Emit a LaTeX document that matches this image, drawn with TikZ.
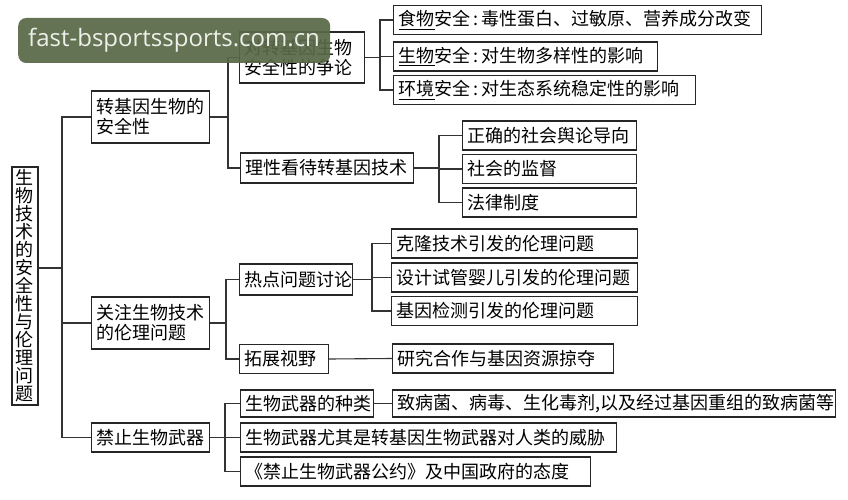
\documentclass[tikz,border=0pt]{standalone}
\usepackage{fontspec}
\newfontfamily\cjk{Noto Sans CJK SC}
\newfontfamily\wmfont{Open Sans}
\definecolor{wmgreen}{RGB}{89,104,72}
\definecolor{wmtext}{RGB}{236,240,232}

\begin{document}
\begin{tikzpicture}[x=1pt, y=-1pt,
        box/.style={draw=black!85, line width=1.1pt, anchor=west, inner xsep=5pt, inner ysep=2pt,
            align=left, minimum height=29pt, font=\cjk\fontsize{18}{20}\selectfont},
        link/.style={draw=black!80, line width=1.1pt},
        wmark/.style={fill=wmgreen, rounded corners=8pt, anchor=west, inner xsep=10pt, align=left,
            minimum height=45pt, text=wmtext, font=\wmfont\fontsize{24}{26}\selectfont}]
        \useasboundingbox (0,0) rectangle (848,500);

        % Junctions
        \coordinate (jR) at (62,268);
        \coordinate (jG) at (228,0);
        \coordinate (jD) at (380,0);
        \coordinate (jT) at (439,0);
        \coordinate (jE) at (226,0);
        \coordinate (jH) at (372,0);
        \coordinate (jB) at (225,0);

        % Root
        \node[box, anchor=center, align=center, text width=18pt, inner xsep=4pt, minimum height=238pt,
            font=\cjk\fontsize{18}{18}\selectfont] (root) at (25,286)
            {生\\物\\技\\术\\的\\安\\全\\性\\与\\伦\\理\\问\\题};

        % First level
        \node[box, text width=108pt, minimum height=52pt] (gmo) at (91,117) {转基因生物的\\安全性};
        \node[box, text width=108pt, minimum height=52pt] (ethic) at (91,323) {关注生物技术\\的伦理问题};
        \node[box, text width=108pt] (ban) at (91,437.5) {禁止生物武器};

        % Safety of GM organisms
        \node[box, text width=115pt, minimum height=51pt] (debate) at (239,57.5) {对转基因生物\\安全性的争论};
        \node[box, text width=163pt, minimum height=30pt] (reason) at (240,168) {理性看待转基因技术};
        \node[box, text width=358pt] (food) at (393,20) {\underline{食物}安全\,:\,毒性蛋白、过敏原、营养成分改变};
        \node[box, text width=254pt] (bio) at (393,56.5) {\underline{生物}安全\,:\,对生物多样性的影响};
        \node[box, text width=292pt] (env) at (393,90) {\underline{环境}安全\,:\,对生态系统稳定性的影响};
        \node[box, text width=164pt] (media) at (462,135.5) {正确的社会舆论导向};
        \node[box, text width=164pt] (watch) at (462,169) {社会的监督};
        \node[box, text width=164pt] (law) at (462,202.5) {法律制度};

        % Ethics
        \node[box, text width=103pt, minimum height=31pt] (hot) at (239,279.5) {热点问题讨论};
        \node[box, text width=79pt] (view) at (239,359) {拓展视野};
        \node[box, text width=236pt] (clone) at (391,243.5) {克隆技术引发的伦理问题};
        \node[box, text width=236pt] (tube) at (391,277.5) {设计试管婴儿引发的伦理问题};
        \node[box, text width=236pt] (test) at (391,311) {基因检测引发的伦理问题};
        \node[box, text width=211pt] (plunder) at (392,358.5) {研究合作与基因资源掠夺};

        % Biological weapons
        \node[box, text width=123pt, minimum height=27pt] (kinds) at (240,403.5) {生物武器的种类};
        \node[box, text width=433pt, minimum height=27pt] (agents) at (392,403.5) {致病菌、病毒、生化毒剂,以及经过基因重组的致病菌等};
        \node[box, text width=366pt] (threat) at (240,437.5) {生物武器尤其是转基因生物武器对人类的威胁};
        \node[box, text width=340pt] (treaty) at (240,471.5) {《禁止生物武器公约》及中国政府的态度};

        % Connectors
        \draw[link] (root.east |- jR) -- (jR);
        \draw[link] (gmo.west) -| (jR) |- (ban.west);
        \draw[link] (ethic.west) -- (ethic.west -| jR);

        \draw[link] (gmo.east) -- (gmo.east -| jG);
        \draw[link] (debate.west) -- (debate.west -| jG) |- (reason.west);
        \draw[link] (debate.east) -- (debate.east -| jD);
        \draw[link] (food.west) -- (food.west -| jD) |- (env.west);
        \draw[link] (bio.west) -- (bio.west -| jD);
        \draw[link] (reason.east) -- (reason.east -| jT);
        \draw[link] (media.west) -- (media.west -| jT) |- (law.west);
        \draw[link] (watch.west) -- (watch.west -| jT);

        \draw[link] (ethic.east) -- (ethic.east -| jE);
        \draw[link] (hot.west) -- (hot.west -| jE) |- (view.west);
        \draw[link] (hot.east) -- (hot.east -| jH);
        \draw[link] (clone.west) -- (clone.west -| jH) |- (test.west);
        \draw[link] (tube.west) -- (tube.west -| jH);
        \draw[link] (view.east) -- (plunder.west);

        \draw[link] (ban.east) -- (ban.east -| jB);
        \draw[link] (kinds.west) -- (kinds.west -| jB) |- (treaty.west);
        \draw[link] (threat.west) -- (threat.west -| jB);
        \draw[link] (kinds.east) -- (agents.west);

        % Watermark
        \node[wmark, fill opacity=0.93, text opacity=1, text width=292pt] (wm) at (18,40.5) {fast-bsportssports.com.cn};
    \end{tikzpicture}
\end{document}
